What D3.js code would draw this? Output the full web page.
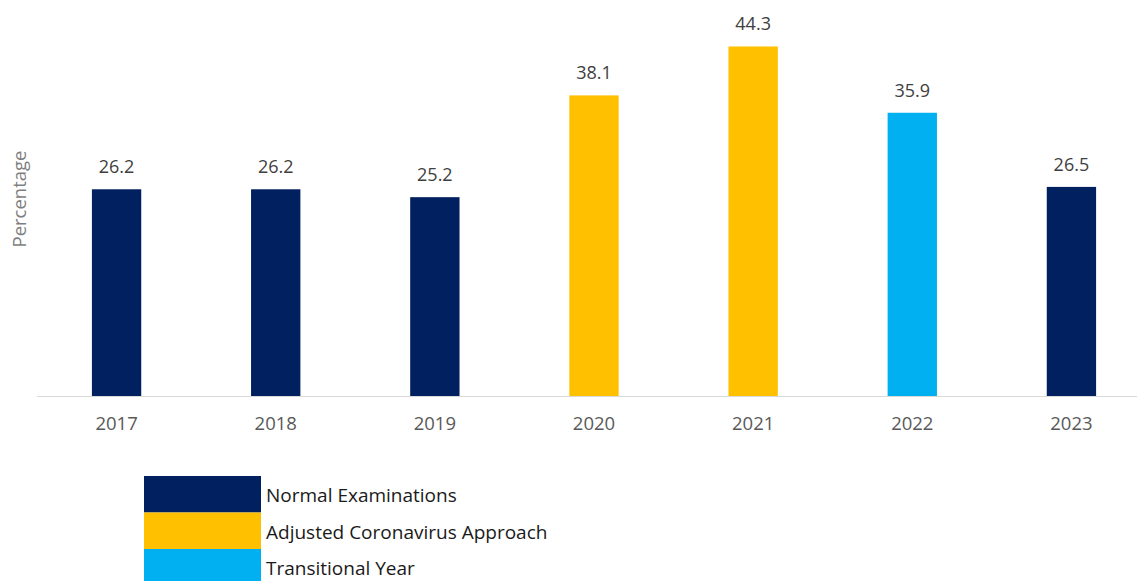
<!DOCTYPE html>
<html>
<head>
<meta charset="utf-8">
<script src="https://cdn.jsdelivr.net/npm/d3@7"></script>
<style>
  body { margin: 0; background: #fff; }
  svg { display: block; font-family: "Open Sans", "Liberation Sans", sans-serif; }
</style>
</head>
<body>
<svg id="chart" width="1137" height="581"></svg>
<script>
var years = ["2017", "2018", "2019", "2020", "2021", "2022", "2023"];
var values = [26.2, 26.2, 25.2, 38.1, 44.3, 35.9, 26.5];
var groups = ["normal", "normal", "normal", "covid", "covid", "transition", "normal"];
var legendKeys = ["normal", "covid", "transition"];
var legendLabels = ["Normal Examinations", "Adjusted Coronavirus Approach", "Transitional Year"];
var legendColors = ["#002060", "#FFC000", "#00B0F0"];

var svg = d3.select("#chart");

var x = d3.scaleBand().domain(years).range([37, 1151]).paddingInner(0.69).paddingOuter(0.345);
var y = d3.scaleLinear().domain([0, 50]).range([396, 1.5]);
var color = d3.scaleOrdinal().domain(legendKeys).range(legendColors);

// bars
svg.selectAll("rect.bar")
  .data(years)
  .enter().append("rect")
  .attr("class", "bar")
  .attr("x", function(d) { return x(d); })
  .attr("y", function(d, i) { return y(values[i]); })
  .attr("width", x.bandwidth())
  .attr("height", function(d, i) { return y(0) - y(values[i]); })
  .attr("fill", function(d, i) { return color(groups[i]); });

// value labels
svg.selectAll("text.val")
  .data(years)
  .enter().append("text")
  .attr("class", "val")
  .attr("x", function(d) { return x(d) + x.bandwidth() / 2; })
  .attr("y", function(d, i) { return y(values[i]) - 16; })
  .attr("text-anchor", "middle")
  .attr("fill", "#404040")
  .style("font-size", "18px")
  .text(function(d, i) { return values[i].toFixed(1); });

// x axis
var xAxis = svg.append("g")
  .attr("transform", "translate(0," + y(0) + ")")
  .call(d3.axisBottom(x).tickSize(0).tickPadding(21));
xAxis.select(".domain").attr("stroke", "#d9d9d9").attr("d", "M37,0.5H1137");
xAxis.selectAll("text")
  .attr("fill", "#595959")
  .style("font-size", "18.5px")
  .style("font-family", "\"Open Sans\", \"Liberation Sans\", sans-serif");

// y axis title
svg.append("text")
  .attr("transform", "translate(26,199) rotate(-90)")
  .attr("text-anchor", "middle")
  .attr("fill", "#7f7f7f")
  .style("font-size", "18.5px")
  .text("Percentage");

// legend
var legend = svg.append("g").attr("transform", "translate(144,476)");
legend.selectAll("rect")
  .data(legendKeys)
  .enter().append("rect")
  .attr("x", 0)
  .attr("y", function(d, i) { return i * 36.5; })
  .attr("width", 117)
  .attr("height", 36.5)
  .attr("fill", function(d) { return color(d); });
legend.selectAll("text")
  .data(legendLabels)
  .enter().append("text")
  .attr("x", 122)
  .attr("y", function(d, i) { return i * 36.5 + 26; })
  .attr("fill", "#1a1a1a")
  .style("font-size", "19px")
  .text(function(d) { return d; });
</script>
</body>
</html>
